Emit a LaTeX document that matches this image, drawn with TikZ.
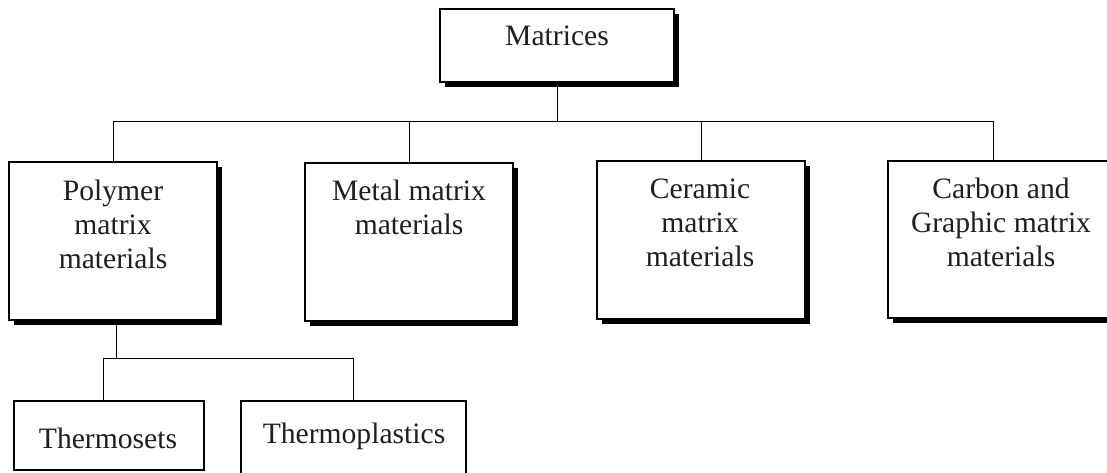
\documentclass[tikz,border=0pt]{standalone}
\usepackage{fontspec}
\setmainfont{Liberation Serif}
\usetikzlibrary{shadows}
\tikzset{
  boxshape/.style={draw=black, line width=1.3pt, fill=white, inner sep=0pt,
    general shadow={fill=black, shadow xshift=5pt, shadow yshift=-5pt}},
  plainbox/.style={draw=black, line width=1.2pt, fill=white, inner sep=0pt},
  boxtext/.style={anchor=north, inner sep=0pt, align=center, text=black!88,
    font=\fontsize{29.6}{34}\selectfont},
  conn/.style={draw=black, line width=1pt},
}
\newcommand{\tstrut}{\rule{0pt}{25pt}}
\begin{document}
\begin{tikzpicture}[x=1pt,y=-1pt]
\useasboundingbox (0,0) rectangle (1107,472);
\clip (0,0) rectangle (1107,472);
\fill[white] (0,0) rectangle (1107,472);

% boxes (corner to corner)
\node[boxshape, minimum width=234pt, minimum height=73pt] (M) at (557,45.5) {};
\node[boxshape, minimum width=208pt, minimum height=158pt] (P) at (113,241) {};
\node[boxshape, minimum width=208pt, minimum height=158pt] (Me) at (409,242) {};
\node[boxshape, minimum width=208pt, minimum height=158pt] (C) at (701,240) {};
\node[boxshape, minimum width=230pt, minimum height=157pt] (Ca) at (1003,239.5) {};
\node[plainbox, minimum width=190pt, minimum height=69pt] (Ts) at (109,435.5) {};
\node[plainbox, minimum width=225pt, minimum height=90pt] (Tp) at (353.5,446) {};

% texts
\node[boxtext] (Mt) at (557,20.7) {\tstrut Matrices};
\node[boxtext] (Pt) at (113,175.7) {\tstrut Polymer\\matrix\\materials};
\node[boxtext] (Met) at (409,175.7) {\tstrut Metal matrix\\materials};
\node[boxtext] (Ct) at (700,173) {\tstrut Ceramic\\matrix\\materials};
\node[boxtext] (Cat) at (1001,173) {\tstrut Carbon and\\Graphic matrix\\materials};
\node[boxtext] (Tst) at (108,423) {\tstrut Thermosets};
\node[boxtext] (Tpt) at (354,418) {\tstrut Thermoplastics};

% connectors
\coordinate (bus) at (0,121);
\coordinate (cadrop) at (993,161);
\coordinate (pdrop) at (116,320);
\coordinate (sub) at (0,358);
\coordinate (tsdrop) at (103,401);

\draw[conn] (M.south) -- (M.south |- bus);
\draw[conn] (P.north) |- (cadrop |- bus) -- (cadrop);
\draw[conn] (Me.north) -- (Me.north |- bus);
\draw[conn] (C.north) -- (C.north |- bus);
\draw[conn] (pdrop) -- (pdrop |- sub);
\draw[conn] (tsdrop) |- (Tp.north |- sub) -- (Tp.north);
\end{tikzpicture}
\end{document}
